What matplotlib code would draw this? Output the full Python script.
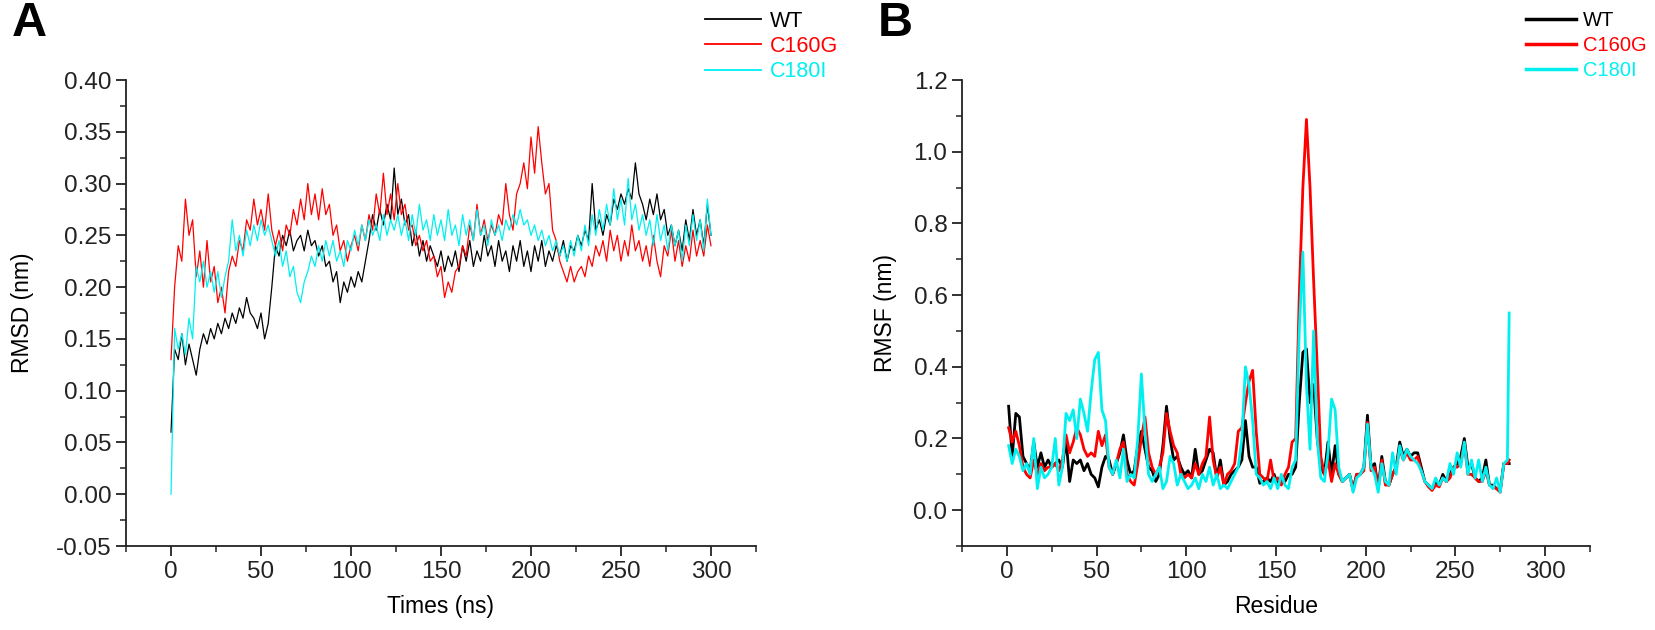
import numpy as np
import matplotlib
matplotlib.use("Agg")
import matplotlib.pyplot as plt
from matplotlib.ticker import MultipleLocator

plt.rcParams['font.family'] = ['Liberation Sans', 'DejaVu Sans']

# --- A: RMSD vs time (ns), one value every 2 ns from 0 to 300 ---
rmsd_wt = [
    0.06, 0.14, 0.13, 0.155, 0.125, 0.145, 0.13, 0.115, 0.14, 0.155,
    0.145, 0.16, 0.15, 0.165, 0.155, 0.17, 0.16, 0.175, 0.165, 0.18,
    0.17, 0.19, 0.175, 0.17, 0.16, 0.175, 0.15, 0.165, 0.2, 0.24,
    0.23, 0.25, 0.24, 0.255, 0.235, 0.245, 0.25, 0.235, 0.255, 0.24,
    0.245, 0.23, 0.24, 0.22, 0.225, 0.205, 0.215, 0.185, 0.205, 0.195,
    0.21, 0.2, 0.215, 0.205, 0.225, 0.245, 0.27, 0.255, 0.275, 0.26,
    0.28, 0.265, 0.315, 0.27, 0.285, 0.26, 0.27, 0.24, 0.255, 0.23,
    0.245, 0.225, 0.24, 0.23, 0.22, 0.235, 0.215, 0.23, 0.22, 0.235,
    0.215, 0.24, 0.225, 0.245, 0.22, 0.235, 0.225, 0.25, 0.23, 0.24,
    0.22, 0.245, 0.225, 0.235, 0.215, 0.24, 0.225, 0.245, 0.22, 0.235,
    0.215, 0.24, 0.225, 0.245, 0.22, 0.235, 0.225, 0.24, 0.23, 0.245,
    0.225, 0.24, 0.235, 0.25, 0.24, 0.255, 0.245, 0.3, 0.255, 0.265,
    0.25, 0.27, 0.26, 0.285, 0.275, 0.29, 0.28, 0.295, 0.285, 0.32,
    0.29, 0.28, 0.265, 0.285, 0.27, 0.29, 0.265, 0.275, 0.25, 0.26,
    0.24, 0.255, 0.235, 0.265, 0.245, 0.275, 0.25, 0.265, 0.24, 0.28,
    0.25,
]
rmsd_c160g = [
    0.13, 0.2, 0.24, 0.225, 0.285, 0.25, 0.265, 0.21, 0.235, 0.2,
    0.245, 0.205, 0.22, 0.185, 0.2, 0.175, 0.215, 0.23, 0.22, 0.245,
    0.235, 0.265, 0.255, 0.285, 0.26, 0.275, 0.255, 0.29, 0.255, 0.24,
    0.255, 0.235, 0.26, 0.25, 0.275, 0.26, 0.285, 0.265, 0.3, 0.27,
    0.29, 0.265, 0.295, 0.27, 0.28, 0.25, 0.26, 0.235, 0.245, 0.225,
    0.24, 0.25, 0.235, 0.26, 0.245, 0.27, 0.255, 0.29, 0.27, 0.31,
    0.27, 0.29, 0.265, 0.3, 0.27, 0.28, 0.255, 0.26, 0.24, 0.25,
    0.235, 0.245, 0.225, 0.23, 0.21, 0.22, 0.19, 0.205, 0.195, 0.215,
    0.22, 0.24, 0.23, 0.26, 0.245, 0.28, 0.25, 0.265, 0.245, 0.26,
    0.25, 0.27, 0.26, 0.3, 0.27, 0.255, 0.29, 0.3, 0.32, 0.295,
    0.345, 0.31, 0.355, 0.32, 0.29, 0.3, 0.255, 0.245, 0.225, 0.215,
    0.205, 0.22, 0.205, 0.215, 0.22, 0.21, 0.23, 0.22, 0.24, 0.23,
    0.245, 0.225, 0.255, 0.235, 0.25, 0.225, 0.245, 0.23, 0.26, 0.235,
    0.245, 0.225, 0.24, 0.22, 0.25, 0.225, 0.21, 0.24, 0.23, 0.255,
    0.225, 0.245, 0.22, 0.24, 0.225, 0.255, 0.23, 0.245, 0.23, 0.26,
    0.24,
]
rmsd_c180i = [
    0.0, 0.16, 0.14, 0.155, 0.135, 0.17, 0.15, 0.22, 0.205, 0.225,
    0.2, 0.215, 0.195, 0.215, 0.19, 0.21, 0.225, 0.265, 0.235, 0.25,
    0.23, 0.255, 0.24, 0.26, 0.245, 0.265, 0.25, 0.26, 0.245, 0.23,
    0.245, 0.22, 0.235, 0.21, 0.22, 0.195, 0.185, 0.205, 0.215, 0.23,
    0.22, 0.24, 0.225, 0.245, 0.23, 0.245, 0.225, 0.235, 0.22, 0.245,
    0.235, 0.255, 0.24, 0.26, 0.245, 0.265, 0.25, 0.26, 0.245, 0.27,
    0.25, 0.265, 0.255, 0.27, 0.25, 0.265, 0.245, 0.27, 0.25, 0.28,
    0.255, 0.265, 0.245, 0.27, 0.25, 0.265, 0.245, 0.275, 0.25, 0.26,
    0.24, 0.27, 0.25, 0.265, 0.245, 0.275, 0.25, 0.26, 0.24, 0.265,
    0.25, 0.26, 0.245, 0.265, 0.255, 0.27, 0.26, 0.275, 0.26, 0.265,
    0.25, 0.26, 0.245, 0.255, 0.24, 0.25, 0.235, 0.245, 0.23, 0.24,
    0.225, 0.245, 0.23, 0.25, 0.235, 0.26, 0.24, 0.27, 0.25, 0.275,
    0.255, 0.28, 0.26, 0.295, 0.265, 0.285, 0.26, 0.305, 0.265, 0.28,
    0.255, 0.27, 0.25, 0.265, 0.24, 0.27, 0.245, 0.26, 0.235, 0.26,
    0.24, 0.255, 0.225, 0.26, 0.24, 0.27, 0.245, 0.265, 0.235, 0.285,
    0.25,
]

# --- B: RMSF per residue, odd residues 1..279 plus residue 280 ---
rmsf_wt = [
    0.29, 0.15, 0.27, 0.26, 0.15, 0.13, 0.11, 0.19, 0.12, 0.16,
    0.12, 0.14, 0.12, 0.13, 0.14, 0.12, 0.2, 0.08, 0.14, 0.13,
    0.14, 0.11, 0.13, 0.1, 0.09, 0.065, 0.12, 0.15, 0.14, 0.1,
    0.13, 0.16, 0.21, 0.14, 0.1, 0.11, 0.18, 0.22, 0.17, 0.12,
    0.11, 0.08, 0.1, 0.18, 0.29, 0.2, 0.14, 0.15, 0.12, 0.1,
    0.11, 0.09, 0.17, 0.1, 0.11, 0.14, 0.17, 0.16, 0.09, 0.14,
    0.07, 0.08, 0.1, 0.11, 0.12, 0.14, 0.25, 0.15, 0.12, 0.12,
    0.075, 0.08, 0.09, 0.08, 0.1, 0.07, 0.09, 0.08, 0.1, 0.1,
    0.12, 0.3, 0.44, 0.45, 0.3, 0.35, 0.2, 0.12, 0.1, 0.19,
    0.1, 0.18, 0.1, 0.08, 0.09, 0.1, 0.06, 0.1, 0.1, 0.12,
    0.265, 0.12, 0.13, 0.06, 0.15, 0.08, 0.07, 0.1, 0.12, 0.19,
    0.15, 0.17, 0.15, 0.16, 0.16, 0.12, 0.08, 0.07, 0.06, 0.08,
    0.07, 0.1, 0.08, 0.1, 0.12, 0.13, 0.15, 0.2, 0.12, 0.13,
    0.09, 0.08, 0.09, 0.14, 0.07, 0.07, 0.06, 0.055, 0.13, 0.13,
    0.13,
]
rmsf_c160g = [
    0.23, 0.19, 0.22, 0.18, 0.12, 0.1, 0.09, 0.14, 0.1, 0.13,
    0.11, 0.12, 0.12, 0.13, 0.11, 0.14, 0.21, 0.16, 0.19, 0.23,
    0.21, 0.17, 0.15, 0.16, 0.15, 0.22, 0.18, 0.21, 0.12, 0.1,
    0.13, 0.17, 0.19, 0.1, 0.08, 0.07, 0.13, 0.2, 0.26, 0.16,
    0.12, 0.1, 0.12, 0.16, 0.27, 0.22, 0.18, 0.16, 0.1, 0.09,
    0.1, 0.09, 0.13, 0.1, 0.13, 0.15, 0.26, 0.14, 0.09, 0.12,
    0.07, 0.1, 0.11, 0.13, 0.22, 0.23, 0.3, 0.36, 0.39, 0.22,
    0.1, 0.09, 0.08, 0.14, 0.08, 0.09, 0.07, 0.1, 0.12, 0.19,
    0.2, 0.6, 0.9, 1.09, 0.9, 0.64, 0.4, 0.15, 0.1, 0.14,
    0.08, 0.13, 0.1, 0.08, 0.09, 0.1, 0.055, 0.1, 0.1, 0.11,
    0.245, 0.11, 0.12, 0.06, 0.14, 0.07, 0.07, 0.1, 0.12, 0.17,
    0.14, 0.16, 0.14, 0.14, 0.15, 0.11, 0.08, 0.065, 0.055, 0.07,
    0.065, 0.09, 0.08, 0.09, 0.12, 0.12, 0.13, 0.185, 0.1, 0.1,
    0.09, 0.08, 0.08, 0.11, 0.07, 0.065, 0.06, 0.05, 0.13, 0.13,
    0.14,
]
rmsf_c180i = [
    0.18, 0.13, 0.17, 0.15, 0.11, 0.13, 0.1, 0.2, 0.06, 0.12,
    0.09, 0.1, 0.12, 0.2, 0.07, 0.12, 0.27, 0.25, 0.28, 0.2,
    0.31, 0.27, 0.22, 0.33, 0.42, 0.44, 0.28, 0.25, 0.12, 0.1,
    0.14, 0.09, 0.17, 0.08, 0.1, 0.09, 0.2, 0.38, 0.22, 0.1,
    0.08, 0.1, 0.12, 0.06, 0.08, 0.15, 0.13, 0.07, 0.1, 0.08,
    0.06, 0.07, 0.09, 0.06, 0.1, 0.08, 0.12, 0.07, 0.1, 0.06,
    0.07, 0.06, 0.08, 0.1, 0.12, 0.2, 0.4, 0.35, 0.25, 0.1,
    0.09, 0.07, 0.08, 0.06, 0.09, 0.06, 0.1, 0.07, 0.06, 0.12,
    0.14, 0.5, 0.72, 0.35, 0.17, 0.5, 0.2, 0.09, 0.08, 0.16,
    0.31, 0.28, 0.12, 0.08, 0.09, 0.1, 0.05, 0.09, 0.1, 0.12,
    0.24, 0.12, 0.1, 0.05, 0.13, 0.08, 0.07, 0.16, 0.1, 0.18,
    0.14, 0.17, 0.15, 0.14, 0.13, 0.11, 0.08, 0.07, 0.06, 0.09,
    0.07, 0.09, 0.08, 0.13, 0.1, 0.16, 0.12, 0.19, 0.1, 0.14,
    0.09, 0.14, 0.08, 0.12, 0.07, 0.06, 0.09, 0.05, 0.13, 0.14,
    0.55,
]

labels = ['WT', 'C160G', 'C180I']
colors = ['black', '#ff0000', '#00f0f0']

time = np.linspace(0, 300, len(rmsd_wt))
residues = np.append(np.arange(1, 280, 2), 280)

fig = plt.figure(figsize=(16.56, 6.3), dpi=100)
axA = fig.add_axes([0.0761, 0.1333, 0.3804, 0.7397])
axB = fig.add_axes([0.5809, 0.1333, 0.3792, 0.7397])

for series, lab, c in zip([rmsd_wt, rmsd_c160g, rmsd_c180i], labels, colors):
    axA.plot(time, series, color=c, lw=0.9, label=lab)
for series, lab, c in zip([rmsf_wt, rmsf_c160g, rmsf_c180i], labels, colors):
    axB.plot(residues, series, color=c, lw=2.0, label=lab)

tick_fs = 17.5
lab_fs = 16.5
for ax in (axA, axB):
    ax.spines['top'].set_visible(False)
    ax.spines['right'].set_visible(False)
    for s in ('left', 'bottom'):
        ax.spines[s].set_linewidth(1.3)
        ax.spines[s].set_color('#222222')
    ax.set_xlim(-25, 325)
    ax.xaxis.set_major_locator(MultipleLocator(50))
    ax.xaxis.set_minor_locator(MultipleLocator(25))
    ax.tick_params(which='major', direction='out', length=7, width=1.3,
                   labelsize=tick_fs, colors='#222222')
    ax.tick_params(which='minor', direction='out', length=4, width=1.1,
                   colors='#222222')

axA.set_ylim(-0.05, 0.40)
axA.yaxis.set_major_locator(MultipleLocator(0.05))
axA.yaxis.set_minor_locator(MultipleLocator(0.025))
axA.yaxis.set_major_formatter(plt.FormatStrFormatter('%.2f'))
axA.set_xlabel('Times (ns)', fontsize=lab_fs, labelpad=9)
axA.set_ylabel('RMSD (nm)', fontsize=lab_fs, labelpad=16)

axB.set_ylim(-0.1, 1.2)
axB.yaxis.set_major_locator(MultipleLocator(0.2))
axB.yaxis.set_minor_locator(MultipleLocator(0.1))
axB.yaxis.set_major_formatter(plt.FormatStrFormatter('%.1f'))
axB.set_xlabel('Residue', fontsize=lab_fs, labelpad=9)
axB.set_ylabel('RMSF (nm)', fontsize=lab_fs, labelpad=12)

legA = axA.legend(loc='upper left', bbox_to_anchor=(0.4257, 0.983),
                  bbox_transform=fig.transFigure, frameon=False, fontsize=15.5,
                  handlelength=2.6, handletextpad=0.4, labelspacing=0.2,
                  borderpad=0, borderaxespad=0, labelcolor='linecolor')
for h in legA.get_lines():
    h.set_linewidth(1.3)
legB = axB.legend(loc='upper left', bbox_to_anchor=(0.9215, 0.983),
                  bbox_transform=fig.transFigure, frameon=False, fontsize=14.5,
                  handlelength=2.5, handletextpad=0.35, labelspacing=0.3,
                  borderpad=0, borderaxespad=0, labelcolor='linecolor')
for h in legB.get_lines():
    h.set_linewidth(2.5)

fig.text(0.007, 0.962, 'A', fontsize=35, fontweight='bold', va='center')
fig.text(0.530, 0.962, 'B', fontsize=35, fontweight='bold', va='center')

fig.savefig('out.png', dpi=100)
